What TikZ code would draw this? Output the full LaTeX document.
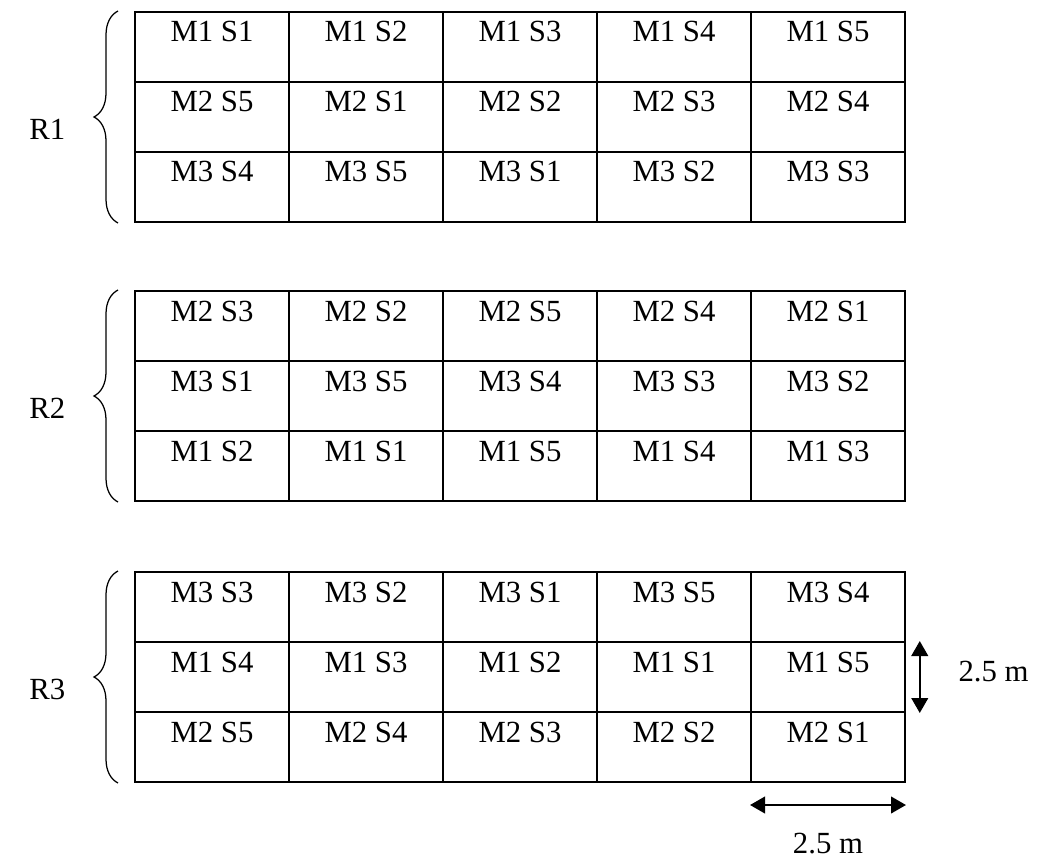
\documentclass[tikz,border=0pt]{standalone}
\usepackage{fontspec}
\setmainfont{Liberation Serif}
\usetikzlibrary{
    positioning,
    arrows.meta,
    matrix,
    calc,
    decorations.pathreplacing,
}
\tikzset{
    % Field plot styles
    plot cell/.style={rectangle, draw, line width=0.8pt, inner sep=0pt,
                      minimum width=61.6pt, minimum height=28pt,
                      text height=12pt, text depth=16pt, anchor=center},
    plot grid/.style={line width=0.8pt, matrix of nodes, nodes={plot cell},
                      column sep=-\pgflinewidth, row sep=-\pgflinewidth,
                      inner sep=0pt, anchor=north west},
    % Annotation styles
    rep brace/.style={decorate, decoration={brace, amplitude=9.6pt}, line width=0.5pt},
    rep label/.style={inner sep=0.3333em},
    dim arrow/.style={{Triangle[length=6pt, width=6.6pt]}-{Triangle[length=6pt, width=6.6pt]},
                      line width=1pt},
}

\begin{document}
\begin{tikzpicture}[font=\fontsize{12.3}{14}\selectfont]
    \useasboundingbox (0,0) rectangle (416.4pt,-344.4pt);

    % Replication 1
    \matrix (r1) [plot grid] at (53.2pt,-4pt) {
        M1 S1 & M1 S2 & M1 S3 & M1 S4 & M1 S5 \\
        M2 S5 & M2 S1 & M2 S2 & M2 S3 & M2 S4 \\
        M3 S4 & M3 S5 & M3 S1 & M3 S2 & M3 S3 \\
    };
    \draw[rep brace] ([xshift=-6.4pt]r1-3-1.south west) -- ([xshift=-6.4pt]r1-1-1.north west);
    \node[rep label, left=24pt of r1-2-1.west, yshift=-5pt] (l1) {R1};

    % Replication 2
    \matrix (r2) [plot grid] at (53.2pt,-115.6pt) {
        M2 S3 & M2 S2 & M2 S5 & M2 S4 & M2 S1 \\
        M3 S1 & M3 S5 & M3 S4 & M3 S3 & M3 S2 \\
        M1 S2 & M1 S1 & M1 S5 & M1 S4 & M1 S3 \\
    };
    \draw[rep brace] ([xshift=-6.4pt]r2-3-1.south west) -- ([xshift=-6.4pt]r2-1-1.north west);
    \node[rep label, left=24pt of r2-2-1.west, yshift=-5pt] (l2) {R2};

    % Replication 3
    \matrix (r3) [plot grid] at (53.2pt,-228pt) {
        M3 S3 & M3 S2 & M3 S1 & M3 S5 & M3 S4 \\
        M1 S4 & M1 S3 & M1 S2 & M1 S1 & M1 S5 \\
        M2 S5 & M2 S4 & M2 S3 & M2 S2 & M2 S1 \\
    };
    \draw[rep brace] ([xshift=-6.4pt]r3-3-1.south west) -- ([xshift=-6.4pt]r3-1-1.north west);
    \node[rep label, left=24pt of r3-2-1.west, yshift=-5pt] (l3) {R3};

    % Plot size
    \coordinate (va) at ([xshift=5.5pt]r3-2-5.north east);
    \coordinate (vb) at ([xshift=5.5pt]r3-2-5.south east);
    \coordinate (vmid) at ($(va)!0.5!(vb)$);
    \draw[dim arrow] (va) -- (vb);
    \node[rep label, right=12pt of vmid, yshift=2pt] (vlab) {2.5 m};

    \coordinate (ha) at ([yshift=-8.8pt]r3-3-5.south west);
    \coordinate (hb) at ([yshift=-8.8pt]r3-3-5.south east);
    \coordinate (hmid) at ($(ha)!0.5!(hb)$);
    \draw[dim arrow] (ha) -- (hb);
    \node[rep label, below=7.6pt of hmid] (hlab) {2.5 m};
\end{tikzpicture}
\end{document}
